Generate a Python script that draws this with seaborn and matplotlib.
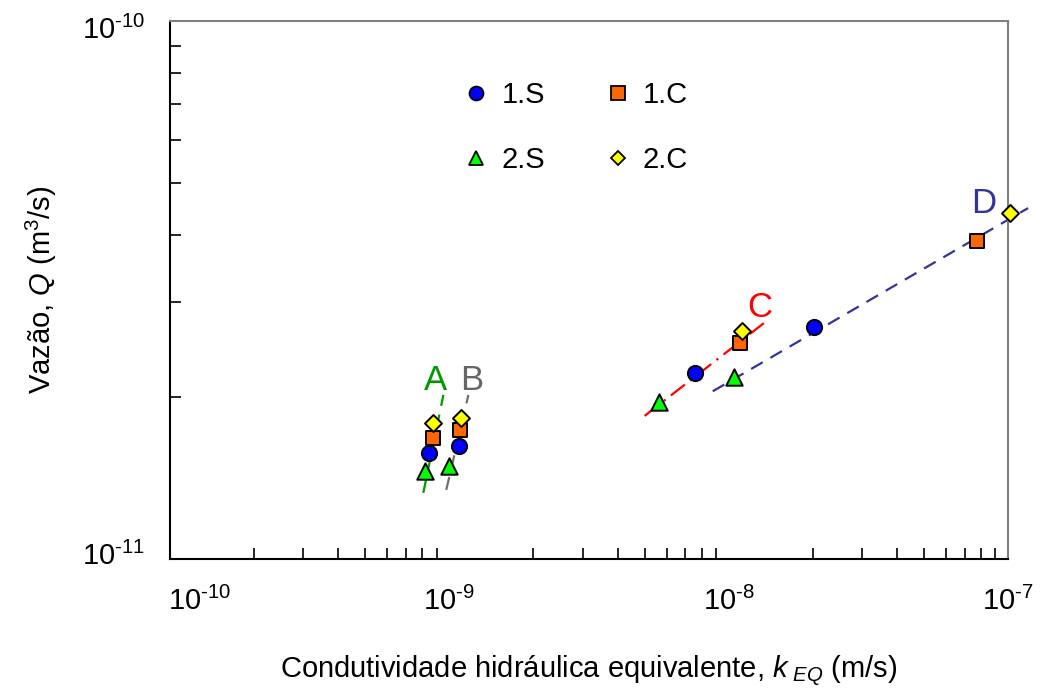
import numpy as np
import pandas as pd
import matplotlib
matplotlib.use("Agg")
import matplotlib.pyplot as plt
import matplotlib.transforms as mtransforms
from matplotlib.ticker import NullFormatter, LogLocator
import seaborn as sns
from matplotlib.lines import Line2D

# ---- data ----
k_1S = [8.48e-10, 1.086e-9, 7.55e-9, 2.02e-8]
Q_1S = [1.575e-11, 1.622e-11, 2.216e-11, 2.70e-11]
k_1C = [8.77e-10, 1.094e-9, 1.095e-8, 7.74e-8]
Q_1C = [1.68e-11, 1.737e-11, 2.52e-11, 3.90e-11]
k_2S = [8.2e-10, 1.0e-9, 5.61e-9, 1.042e-8]
Q_2S = [1.457e-11, 1.49e-11, 1.957e-11, 2.18e-11]
k_2C = [8.77e-10, 1.104e-9, 1.114e-8, 1.016e-7]
Q_2C = [1.79e-11, 1.83e-11, 2.65e-11, 4.40e-11]

series_names = ["1.S", "1.C", "2.S", "2.C"]

# trend lines (endpoints)
line_A_k = [8.07e-10, 9.52e-10]
line_A_Q = [1.327e-11, 2.018e-11]
line_B_k = [9.75e-10, 1.170e-9]
line_B_Q = [1.344e-11, 2.018e-11]
line_C_k = [5.0e-9, 1.38e-8]
line_C_Q = [1.845e-11, 2.78e-11]
line_D_k = [8.77e-9, 1.18e-7]
line_D_Q = [2.05e-11, 4.49e-11]

x_ticks = [1e-10, 1e-9, 1e-8, 1e-7]
x_tick_labels = [r"10$^{\text{-10}}$", r"10$^{\text{-9}}$", r"10$^{\text{-8}}$", r"10$^{\text{-7}}$"]
y_ticks = [1e-11, 1e-10]
y_tick_labels = [r"10$^{\text{-11}}$", r"10$^{\text{-10}}$"]

# ---- style ----
sns.set_style("white")
plt.rcParams['font.family'] = ['Liberation Sans', 'DejaVu Sans']
plt.rcParams['mathtext.fontset'] = 'custom'
plt.rcParams['mathtext.rm'] = 'Liberation Sans'
plt.rcParams['mathtext.it'] = 'Liberation Sans:italic'
plt.rcParams['mathtext.bf'] = 'Liberation Sans:bold'
plt.rcParams['text.color'] = 'black'
plt.rcParams['axes.labelcolor'] = 'black'
plt.rcParams['xtick.color'] = 'black'
plt.rcParams['ytick.color'] = 'black'

fig = plt.figure(figsize=(10.5, 6.88), dpi=100)
ax = fig.add_axes([170/1050, 1-559/688, (1008-170)/1050, (559-21)/688])

df = pd.DataFrame({
    "k": k_1S + k_1C + k_2S + k_2C,
    "Q": Q_1S + Q_1C + Q_2S + Q_2C,
    "serie": sum([[n]*4 for n in series_names], []),
})

palette = {"1.S": "#0000FF", "1.C": "#FF6600", "2.S": "#00FF00", "2.C": "#FFFF00"}
markers = {"1.S": "o", "1.C": "s", "2.S": "^", "2.C": "D"}
sizes_px = {"1.S": 120, "1.C": 110, "2.S": 140, "2.C": 75}

# trend lines
ax.plot(line_A_k, line_A_Q, color="#009900", lw=1.6, ls=(0, (6, 4)), zorder=2)
ax.plot(line_B_k, line_B_Q, color="#707070", lw=1.6, ls=(0, (6, 4)), zorder=2)
ax.plot(line_C_k, line_C_Q, color="#FF0000", lw=1.6, ls=(0, (8, 3, 1, 3)), zorder=2)
ax.plot(line_D_k, line_D_Q, color="#333399", lw=1.6, ls=(0, (6, 4)), zorder=2, clip_on=False)

for name in ["2.S", "1.S", "1.C", "2.C"]:
    sub = df[df["serie"] == name]
    sns.scatterplot(data=sub, x="k", y="Q", color=palette[name], marker=markers[name],
                    s=sizes_px[name], edgecolor="black", linewidth=1.4, ax=ax,
                    zorder=3, clip_on=False, legend=False)

ax.set_xscale("log")
ax.set_yscale("log")
ax.set_xlim(1e-10, 1e-7)
ax.set_ylim(1e-11, 1e-10)
ax.set_xticks(x_ticks)
ax.set_xticklabels(x_tick_labels)
ax.set_yticks(y_ticks)
ax.set_yticklabels(y_tick_labels)
ax.xaxis.set_minor_locator(LogLocator(base=10, subs=np.arange(2, 10)))
ax.yaxis.set_minor_locator(LogLocator(base=10, subs=np.arange(2, 10)))
ax.xaxis.set_minor_formatter(NullFormatter())
ax.yaxis.set_minor_formatter(NullFormatter())

ax.tick_params(axis="both", which="both", direction="in", colors="black", labelsize=21,
               bottom=True, left=True, top=False, right=False)
ax.tick_params(axis="x", which="major", length=0, pad=20)
ax.tick_params(axis="y", which="major", length=0, pad=18)
ax.tick_params(axis="both", which="minor", length=8, width=1.2)

for s in ["left", "bottom"]:
    ax.spines[s].set_color("black")
    ax.spines[s].set_linewidth(1.5)
for s in ["top", "right"]:
    ax.spines[s].set_color("#808080")
    ax.spines[s].set_linewidth(1.5)

ax.set_xlabel(r"Condutividade hidráulica equivalente, $\mathit{k}_{\ \mathit{EQ}}$ (m/s)", fontsize=21, labelpad=27)
ax.set_ylabel(r"Vazão, $\mathit{Q}$ (m$^3$/s)", fontsize=21, labelpad=16)

fig.canvas.draw()
# Excel-like label offsets
xl = ax.get_xticklabels()
xl[0].set_transform(xl[0].get_transform() + mtransforms.ScaledTranslation(30/100, 0, fig.dpi_scale_trans))
yl = ax.get_yticklabels()
yl[0].set_transform(yl[0].get_transform() + mtransforms.ScaledTranslation(0, 6/100, fig.dpi_scale_trans))
yl[1].set_transform(yl[1].get_transform() + mtransforms.ScaledTranslation(0, -6/100, fig.dpi_scale_trans))

# line labels
ax.text(8.9e-10, 2.15e-11, "A", color="#009900", fontsize=25, ha="center", va="center")
ax.text(1.2e-9, 2.15e-11, "B", color="#666666", fontsize=25, ha="center", va="center")
ax.text(1.29e-8, 2.93e-11, "C", color="#FF0000", fontsize=25, ha="center", va="center")
ax.text(8.2e-8, 4.58e-11, "D", color="#333399", fontsize=25, ha="center", va="center")

# legend
handles = []
for name in series_names:
    handles.append(Line2D([], [], ls="none", marker=markers[name], markersize=10 if markers[name] != "D" else 7.5,
                          markerfacecolor=palette[name], markeredgecolor="black", markeredgewidth=1.3,
                          label=name))
order = [0, 2, 1, 3]
leg = ax.legend([handles[i] for i in order], [series_names[i] for i in order], ncol=2,
                frameon=False, fontsize=21, loc="upper left", bbox_to_anchor=(0.317, 0.937),
                labelspacing=1.28, columnspacing=2.0, handletextpad=0.35, handlelength=1.0)

fig.savefig("out.png", dpi=100)
